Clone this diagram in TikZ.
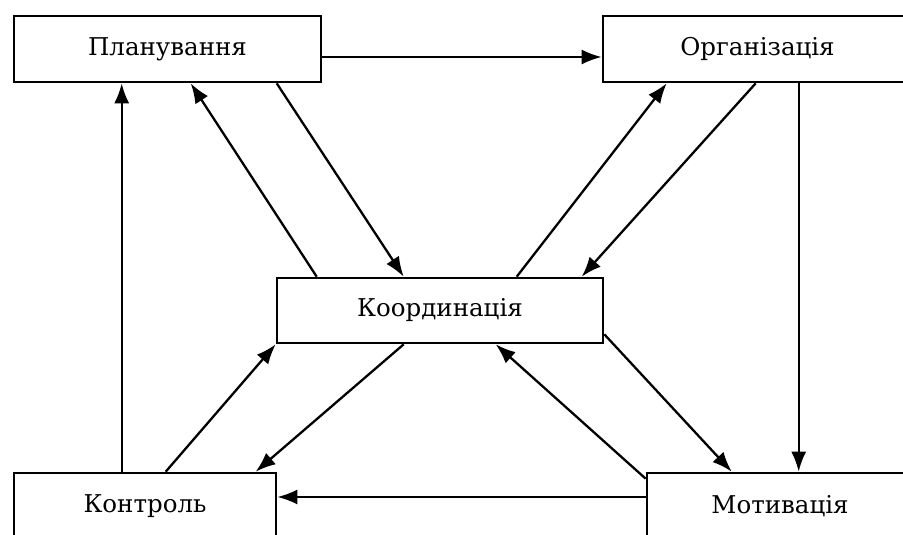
\documentclass[tikz,border=0pt]{standalone}
\usepackage{fontspec}
\setmainfont{DejaVu Serif}
\usetikzlibrary{arrows.meta}
\begin{document}
\begin{tikzpicture}[x=1pt,y=-1pt,
  block/.style={draw=black, line width=2.6pt, fill=white, inner sep=0pt,
    font=\fontsize{24.5}{28}\selectfont, text=black},
  arr/.style={line width=2.3pt, -{Latex[length=20pt,width=15pt]}}]
\useasboundingbox (0,0) rectangle (903,535);
\clip (0,0) rectangle (903,535);

% the five management functions
\node[block, minimum width=307pt, minimum height=66pt] (plan)  at (167.5,49)  {Планування};
\node[block, minimum width=309pt, minimum height=66pt] (org)   at (757.5,49)  {Організація};
\node[block, minimum width=326pt, minimum height=65pt] (koord) at (440,310.5) {Координація};
\node[block, minimum width=262pt, minimum height=66pt] (kontr) at (145,506)   {Контроль};
\node[block, minimum width=266pt, minimum height=66pt] (motiv) at (780,506)   {Мотивація};

% top row
\draw[arr] ([yshift=-8pt]plan.east) -- ([yshift=-8pt]org.west);
% left column
\draw[arr] ([xshift=109pt]kontr.north west) -- ([xshift=109pt]plan.south west);
% right column
\draw[arr] ([xshift=197pt]org.south west) -- ([xshift=153pt]motiv.north west);
% bottom row
\draw[arr] ([yshift=9pt]motiv.west) -- ([yshift=9pt]kontr.east);

% links with coordination
\draw[arr] ([xshift=41pt]koord.north west) -- ([xshift=178pt]plan.south west);
\draw[arr] ([xshift=264pt]plan.south west) -- ([xshift=128pt]koord.north west);
\draw[arr] ([xshift=241pt]koord.north west) -- ([xshift=65pt]org.south west);
\draw[arr] ([xshift=154pt]org.south west) -- ([xshift=306pt]koord.north west);
\draw[arr] ([yshift=-7pt]motiv.north west) -- ([xshift=220pt]koord.south west);
\draw[arr] ([yshift=10pt]koord.south east) -- ([xshift=86pt]motiv.north west);
\draw[arr] ([xshift=153pt]kontr.north west) -- (koord.south west);
\draw[arr] ([xshift=128pt]koord.south west) -- ([xshift=243pt]kontr.north west);
\end{tikzpicture}
\end{document}
